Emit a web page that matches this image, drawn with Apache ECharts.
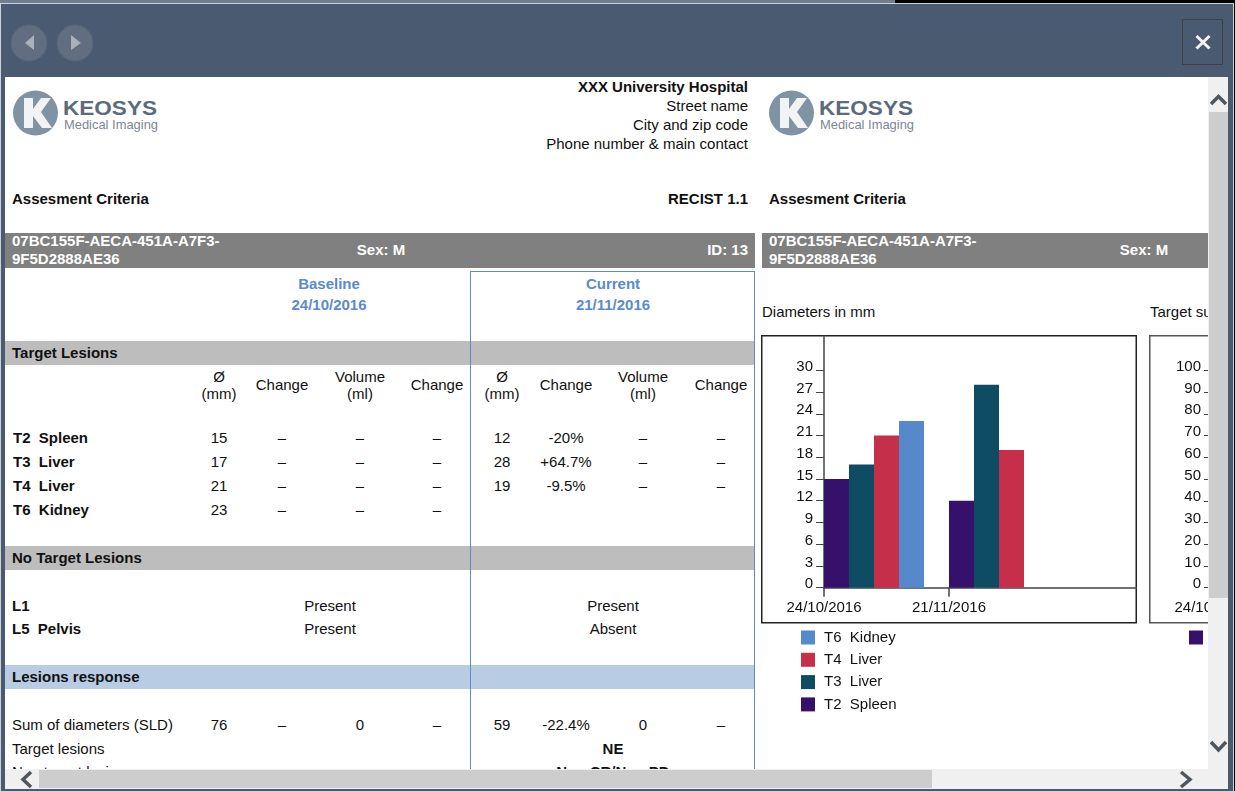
<!DOCTYPE html>
<html>
<head>
<meta charset="utf-8">
<title>Report</title>
<script src="https://cdn.jsdelivr.net/npm/echarts@6/dist/echarts.min.js"></script>
<style>
  html,body{margin:0;padding:0;background:#000;overflow:hidden}
  body{width:1235px;height:791px;position:relative;font-family:"Liberation Sans",Arial,sans-serif;font-size:15px;color:#111}
  .box{position:absolute}
  .t{position:absolute;white-space:pre;line-height:18px;height:18px}
  .b{font-weight:bold}
  #report{position:absolute;left:5px;top:77px;width:1203px;height:692px;background:#fff;overflow:hidden}
  #chart1,#chart2{position:absolute}
</style>
</head>
<body>
<div class="box" style="left:0;top:0;width:895px;height:3px;background:#6f7d90"></div>
<div class="box" style="left:0;top:3px;width:1234px;height:788px;background:#cfd3d8"></div>
<div class="box" style="left:1px;top:4px;width:1232px;height:787px;background:#4a5a70"></div>

<svg class="box" style="left:0;top:0" width="1235" height="77">
  <circle cx="29" cy="43" r="18" fill="#616e7f" stroke="#59667a"/>
  <circle cx="75" cy="43" r="18" fill="#616e7f" stroke="#59667a"/>
  <polygon points="34,35 34,50 25,43" fill="#a9b0b9"/>
  <polygon points="71,35 71,50 81,43" fill="#a9b0b9"/>
  <rect x="1182.5" y="19.5" width="40" height="45" fill="none" stroke="#3d4146"/>
  <path d="M1196.5 36 L1209.5 48.5 M1209.5 36 L1196.5 48.5" stroke="#f4f4f4" stroke-width="3"/>
</svg>

<div id="report"></div>

<!-- scrollbars -->
<div class="box" style="left:1208px;top:77px;width:20px;height:692px;background:#f0f0f0"></div>
<div class="box" style="left:1209px;top:112px;width:19px;height:486px;background:#cdcdcd"></div>
<div class="box" style="left:5px;top:769px;width:1223px;height:20px;background:#f0f0f0"></div>
<div class="box" style="left:39px;top:770px;width:893px;height:18px;background:#cdcdcd"></div>
<svg class="box" style="left:0;top:0;pointer-events:none" width="1235" height="791">
  <g fill="none" stroke="#50565e" stroke-width="3.5">
    <path d="M1211 104 L1218.500 96.500 L1226 104"/>
    <path d="M1211 742 L1218.500 750 L1226 742"/>
    <path d="M31 772 L23 779.500 L31 787"/>
    <path d="M1181 772 L1190 779.500 L1181 787"/>
  </g>
</svg>

<script>
// chart data
var dates = ['24/10/2016', '21/11/2016', '']
var lesionNames = ['T2  Spleen', 'T3  Liver', 'T4  Liver', 'T6  Kidney']
var lesionColors = ['#36116b', '#0e4c63', '#c62f4a', '#5589cb']
var t2Spleen = [15, 12, null]
var t3Liver = [17, 28, null]
var t4Liver = [21, 19, null]
var t6Kidney = [23, null, null]
var diameterTicks = [0, 3, 6, 9, 12, 15, 18, 21, 24, 27, 30]
var sumNames = ['Target sum']
var sumValues = [76, 59, null]
var sumTicks = [0, 10, 20, 30, 40, 50, 60, 70, 80, 90, 100]

// table data
var columnX = [219, 282, 360, 437, 502, 566, 643, 721]
var columnHeads = [['Ø', '(mm)'], ['Change'], ['Volume', '(ml)'], ['Change']]
var rowY = [438, 462, 486, 510]
var baselineRows = [['15', '–', '–', '–'], ['17', '–', '–', '–'], ['21', '–', '–', '–'], ['23', '–', '–', '–']]
var currentRows = [['12', '-20%', '–', '–'], ['28', '+64.7%', '–', '–'], ['19', '-9.5%', '–', '–'], []]
var sumRow = ['76', '–', '0', '–', '59', '-22.4%', '0', '–']

var report = document.getElementById('report')

function band(x, y, w, h, color) {
  var d = document.createElement('div')
  d.className = 'box'
  d.style.cssText = 'left:' + (x - 5) + 'px;top:' + (y - 77) + 'px;width:' + w + 'px;height:' + h + 'px;background:' + color
  report.appendChild(d)
  return d
}

// x,y are page coordinates, y is the middle of the text line
function text(x, y, str, align, bold, color) {
  var s = document.createElement('div')
  s.className = 't' + (bold ? ' b' : '')
  s.textContent = str
  s.style.top = (y - 77 - 9) + 'px'
  if (align == 'right') s.style.right = (1203 - (x - 5)) + 'px'
  else if (align == 'center') { s.style.left = (x - 5) + 'px'; s.style.transform = 'translateX(-50%)' }
  else s.style.left = (x - 5) + 'px'
  if (color) s.style.color = color
  report.appendChild(s)
}

function logo(x) {
  var ns = 'http://www.w3.org/2000/svg'
  var holder = document.createElement('div')
  holder.className = 'box'
  holder.style.cssText = 'left:' + (x - 5) + 'px;top:12px'
  holder.innerHTML = '<svg xmlns="' + ns + '" width="150" height="50">' +
    '<circle cx="22.500" cy="24" r="22.500" fill="#7f93a5"/>' +
    '<path d="M11 9 H20 V20 L28 9 H38 L28 23 L39 39 H29 L20 27 V39 H11 Z" fill="#f1f3f5"/>' +
    '<text x="50" y="26" font-size="20.500" font-weight="bold" fill="#5b6b7b" textLength="94" lengthAdjust="spacingAndGlyphs" font-family="Liberation Sans">KEOSYS</text>' +
    '<text x="51" y="40" font-size="13.500" fill="#7b8794" textLength="94" lengthAdjust="spacingAndGlyphs" font-family="Liberation Sans">Medical Imaging</text>' +
    '</svg>'
  report.appendChild(holder)
}

// left page
logo(13)
text(748, 87, 'XXX University Hospital', 'right', true)
text(748, 106, 'Street name', 'right')
text(748, 125, 'City and zip code', 'right')
text(748, 144, 'Phone number & main contact', 'right')
text(12, 199, 'Assesment Criteria', 'left', true)
text(748, 199, 'RECIST 1.1', 'right', true)

band(5, 233, 750, 35, '#808080')
text(12, 241, '07BC155F-AECA-451A-A7F3-', 'left', true, '#fff')
text(12, 259, '9F5D2888AE36', 'left', true, '#fff')
text(381, 250, 'Sex: M', 'center', true, '#fff')
text(748, 250, 'ID: 13', 'right', true, '#fff')

text(329, 284, 'Baseline', 'center', true, '#5b8bc9')
text(329, 305, '24/10/2016', 'center', true, '#5b8bc9')
text(613, 284, 'Current', 'center', true, '#5b8bc9')
text(613, 305, '21/11/2016', 'center', true, '#5b8bc9')

band(5, 341, 750, 24, '#bdbdbd')
text(12, 353, 'Target Lesions', 'left', true)
columnX.forEach(function (x, i) {
  var head = columnHeads[i % 4]
  if (head.length == 2) {
    text(x, 377, head[0], 'center')
    text(x, 394, head[1], 'center')
  } else {
    text(x, 385, head[0], 'center')
  }
})
lesionNames.forEach(function (name, r) {
  text(13, rowY[r], name, 'left', true)
  baselineRows[r].concat(currentRows[r]).forEach(function (v, c) {
    text(columnX[c], rowY[r], v, 'center')
  })
})

band(5, 546, 750, 24, '#bdbdbd')
text(12, 558, 'No Target Lesions', 'left', true)
text(12, 606, 'L1', 'left', true)
text(330, 606, 'Present', 'center')
text(613, 606, 'Present', 'center')
text(12, 629, 'L5  Pelvis', 'left', true)
text(330, 629, 'Present', 'center')
text(613, 629, 'Absent', 'center')

band(5, 665, 750, 24, '#b8cce4')
text(12, 677, 'Lesions response', 'left', true)
text(12, 725, 'Sum of diameters (SLD)', 'left')
sumRow.forEach(function (v, c) { text(columnX[c], 725, v, 'center') })
text(12, 749, 'Target lesions', 'left')
text(613, 749, 'NE', 'center', true)
text(12, 772, 'Non target lesions', 'left')
text(613, 772, 'Non CR/Non PD', 'center', true)

// current column outline, no bottom edge because it runs under the scrollbar
var cur = band(470, 271, 285, 520, 'transparent')
cur.style.border = '1px solid #5b8bc9'
cur.style.boxSizing = 'border-box'

// right page
logo(769)
text(769, 199, 'Assesment Criteria', 'left', true)
band(762, 233, 446, 35, '#808080')
text(769, 241, '07BC155F-AECA-451A-A7F3-', 'left', true, '#fff')
text(769, 259, '9F5D2888AE36', 'left', true, '#fff')
text(1144, 250, 'Sex: M', 'center', true, '#fff')
text(762, 312, 'Diameters in mm')
text(1150, 312, 'Target sum')

function makeDiv(id, x) {
  var d = document.createElement('div')
  d.id = id
  d.style.cssText = 'left:' + (x - 5) + 'px;top:258px;width:376px;height:390px'
  report.appendChild(d)
  return d
}

function drawChart(el, names, colors, rows, ticks, yMax, frameColor) {
  var chart = echarts.init(el)
  var series = rows.map(function (row, i) {
    return {
      name: names[i],
      type: 'bar',
      data: row,
      barGap: 0,
      barCategoryGap: 0,
      itemStyle: { color: colors[i] }
    }
  })
  // bars sit from the tick to the right, the band holds five bar widths
  for (var k = series.length; k < 5; k++) {
    series.push({ name: 'slot' + k, type: 'bar', data: [], barGap: 0, barCategoryGap: 0 })
  }
  chart.setOption({
    animation: false,
    graphic: [{
      type: 'rect',
      shape: { x: 0.75, y: 0.75, width: 374.5, height: 287 },
      style: { fill: 'none', stroke: frameColor, lineWidth: 1.5 },
      silent: true
    }],
    // the grid runs on past the frame, the canvas edge cuts the axis line
    grid: { left: 63, top: 1, width: 375, height: 251.7, outerBoundsMode: 'none' },
    legend: {
      data: names.slice().reverse(),
      orient: 'vertical',
      left: 35,
      top: 290,
      icon: 'rect',
      itemWidth: 14,
      itemHeight: 14,
      itemGap: 7.3,
      selectedMode: false,
      textStyle: { fontFamily: 'Liberation Sans', fontSize: 15, color: '#111', padding: [0, 0, 0, 4] }
    },
    xAxis: {
      type: 'category',
      data: dates,
      axisLine: { lineStyle: { color: '#444', width: 1.5 } },
      axisTick: {
        show: true,
        length: 9,
        alignWithLabel: false,
        interval: function (i) { return i < 2 },
        lineStyle: { color: '#444', width: 1.5 }
      },
      axisLabel: {
        interval: 0,
        margin: 13,
        fontFamily: 'Liberation Sans',
        fontSize: 15,
        color: '#111',
        padding: [0, 125, 0, 0]
      }
    },
    yAxis: {
      type: 'value',
      min: 0,
      max: yMax,
      splitLine: { show: false },
      axisLine: { show: true, lineStyle: { color: '#444', width: 1.5 } },
      axisTick: { show: true, length: 8, customValues: ticks, lineStyle: { color: '#444' } },
      axisLabel: {
        customValues: ticks,
        margin: 11,
        fontFamily: 'Liberation Sans',
        fontSize: 15,
        color: '#111',
        // labels ride a little above their tick
        verticalAlign: 'bottom',
        lineHeight: 7
      }
    },
    series: series
  })
  return chart
}

drawChart(makeDiv('chart1', 761), lesionNames, lesionColors, [t2Spleen, t3Liver, t4Liver, t6Kidney], diameterTicks, 34.73, '#222')
drawChart(makeDiv('chart2', 1149), sumNames, [lesionColors[0]], [sumValues], sumTicks, 115.8, '#555')
</script>
</body>
</html>
